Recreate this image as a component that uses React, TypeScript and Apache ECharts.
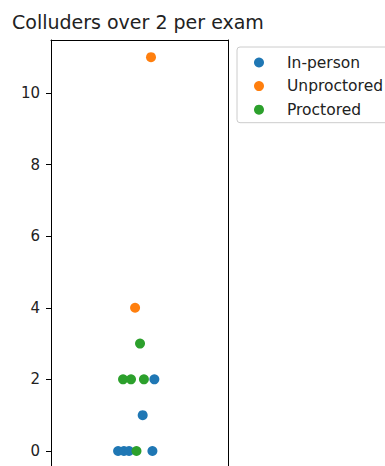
import React, { useEffect, useRef } from "react";
import * as echarts from "echarts";

const seriesNames = ["In-person", "Unproctored", "Proctored"];
const seriesColors = ["#1f77b4", "#ff7f0e", "#2ca02c"];

// x = jitter offset within the single category, y = colluders count
const inPersonX = [0.084, 0.018, -0.121, -0.088, -0.059, 0.073];
const inPersonY = [2, 1, 0, 0, 0, 0];
const unproctoredX = [0.065, -0.025];
const unproctoredY = [11, 4];
const proctoredX = [0.003, -0.093, -0.048, 0.025, -0.017];
const proctoredY = [3, 2, 2, 2, 0];

const yTicks = [0, 2, 4, 6, 8, 10];

const FONT = "DejaVu Sans";

function pairs(xs: number[], ys: number[]) {
  return xs.map((x, i) => [x, ys[i]]);
}

export default function App() {
  const ref = useRef<HTMLDivElement>(null);
  useEffect(() => {
    if (!ref.current) return;
    const chart = echarts.init(ref.current, undefined, { renderer: "svg" });
    const data = [
      pairs(inPersonX, inPersonY),
      pairs(unproctoredX, unproctoredY),
      pairs(proctoredX, proctoredY),
    ];
    const spine = { show: true, onZero: false, lineStyle: { color: "#000", width: 1 } };
    chart.setOption({
      animation: false,
      backgroundColor: "#ffffff",
      textStyle: { fontFamily: FONT },
      title: {
        text: "Colluders over 2 per exam",
        left: 12,
        top: 12.5,
        padding: 0,
        textStyle: { fontFamily: FONT, fontSize: 19, fontWeight: "normal", color: "#222" },
      },
      legend: {
        left: 237,
        top: 47,
        orient: "vertical",
        icon: "circle",
        itemWidth: 46,
        itemHeight: 10,
        itemGap: 5.6,
        padding: [6.5, 45, 4, 17],
        borderColor: "#cccccc",
        borderWidth: 1,
        borderRadius: 3,
        backgroundColor: "#ffffff",
        textStyle: { fontFamily: FONT, fontSize: 15.5, color: "#222", lineHeight: 18 },
        data: seriesNames,
      },
      grid: {
        left: 51,
        top: 40,
        width: 177,
        bottom: 0,
      },
      xAxis: [
        {
          type: "value",
          position: "top",
          min: -0.5,
          max: 0.5,
          axisLine: spine,
          axisTick: { show: false },
          axisLabel: { show: false },
          splitLine: { show: false },
        },
      ],
      yAxis: [
        {
          type: "value",
          position: "left",
          min: -0.42,
          max: 11.48,
          axisLine: spine,
          axisTick: {
            show: true,
            length: 5,
            lineStyle: { color: "#000", width: 1 },
            customValues: yTicks,
          },
          axisLabel: {
            fontFamily: FONT,
            fontSize: 15,
            color: "#222",
            margin: 11,
            customValues: yTicks,
          },
          splitLine: { show: false },
        },
        {
          type: "value",
          position: "right",
          min: -0.42,
          max: 11.48,
          axisLine: spine,
          axisTick: { show: false },
          axisLabel: { show: false },
          splitLine: { show: false },
        },
      ],
      series: seriesNames.map((name, i) => ({
        name,
        type: "scatter",
        symbolSize: 10,
        yAxisIndex: 0,
        itemStyle: { color: seriesColors[i], opacity: 1 },
        data: data[i],
      })),
    });
    return () => chart.dispose();
  }, []);
  return (
    <div
      ref={ref}
      style={{ position: "absolute", left: 0, top: 0, width: 385, height: 466 }}
    />
  );
}
